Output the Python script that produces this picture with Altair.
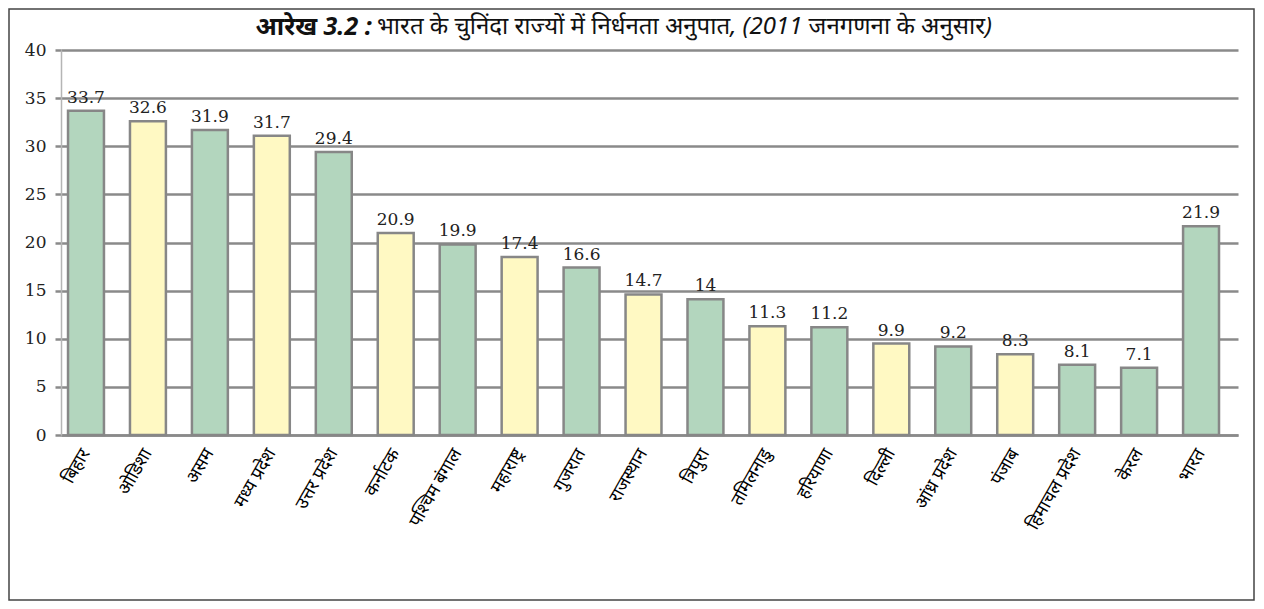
import altair as alt
import pandas as pd

states = ["बिहार", "ओडिशा", "असम", "मध्य प्रदेश", "उत्तर प्रदेश", "कर्नाटक",
          "पश्चिम बंगाल", "महाराष्ट्र", "गुजरात", "राजस्थान", "त्रिपुरा",
          "तमिलनाडु", "हरियाणा", "दिल्ली", "आंध्र प्रदेश", "पंजाब",
          "हिमाचल प्रदेश", "केरल", "भारत"]
bar_values = [33.7, 32.6, 31.7, 31.1, 29.4, 21.0, 19.8, 18.5, 17.4, 14.6, 14.1,
              11.3, 11.2, 9.5, 9.2, 8.4, 7.3, 7.0, 21.7]
value_labels = ["33.7", "32.6", "31.9", "31.7", "29.4", "20.9", "19.9", "17.4",
                "16.6", "14.7", "14", "11.3", "11.2", "9.9", "9.2", "8.3", "8.1",
                "7.1", "21.9"]
groups = ["g", "y", "g", "y", "g", "y", "g", "y", "g", "y", "g", "y", "g", "y",
          "g", "y", "g", "g", "g"]
y_ticks = [0, 5, 10, 15, 20, 25, 30, 35, 40]
title_bold = "आरेख 3.2 :"
title_rest = "भारत के चुनिंदा राज्यों में निर्धनता अनुपात, (2011 जनगणना के अनुसार)"

df = pd.DataFrame({"state": states, "value": bar_values,
                   "label": value_labels, "group": groups})

W, H = 1177, 385
SERIF = "DejaVu Serif"
DEVA = "Noto Sans, sans-serif"

x_enc = alt.X("state:N", sort=states,
              scale=alt.Scale(paddingInner=0.42, paddingOuter=0.21, align=0.27),
              axis=alt.Axis(title=None, labelAngle=-60, labelFont=DEVA,
                            labelFontSize=18, labelColor="#000", labelPadding=15,
                            ticks=False, domainColor="#8a8a8a", domainWidth=2.5,
                            labelAlign="right", labelBaseline="middle"))
y_enc = alt.Y("value:Q", scale=alt.Scale(domain=[0, 40], nice=False),
              axis=alt.Axis(title=None, values=y_ticks, grid=True,
                            gridColor="#8a8a8a", gridWidth=2.5,
                            tickColor="#8a8a8a", tickWidth=2.5, tickSize=6,
                            domainColor="#b5b5b5", domainWidth=1.5,
                            labelFont=SERIF, labelFontSize=17, labelPadding=9,
                            labelColor="#222"))

bars = alt.Chart(df).mark_bar(stroke="#878787", strokeWidth=2.5).encode(
    x=x_enc, y=y_enc,
    color=alt.Color("group:N", scale=alt.Scale(domain=["g", "y"],
                                               range=["#b3d6be", "#fff9c3"]),
                    legend=None))

labels = alt.Chart(df).mark_text(baseline="bottom", dy=-4, font=SERIF,
                                 fontSize=17, color="#222").encode(
    x=x_enc, y=y_enc, text="label:N")

tdf = pd.DataFrame({"bold": [title_bold], "rest": [title_rest]})
t1 = alt.Chart(tdf).mark_text(align="right", baseline="middle", font=DEVA,
                              fontSize=25, fontWeight="bold", fontStyle="italic",
                              color="#111").encode(
    x=alt.value(311), y=alt.value(-23), text="bold:N")
t2 = alt.Chart(tdf).mark_text(align="left", baseline="middle", font=DEVA,
                              fontSize=24, fontStyle="italic",
                              color="#111").encode(
    x=alt.value(316), y=alt.value(-23), text="rest:N")

frame = alt.Chart(tdf).mark_rect(fill="transparent", stroke="#444",
                                 strokeWidth=1.5).encode(
    x=alt.value(-52), x2=alt.value(W + 16), y=alt.value(-41), y2=alt.value(H + 165))

chart = alt.layer(frame, bars, labels, t1, t2).properties(
    width=W, height=H,
    padding={"left": 53, "top": 42, "right": 18, "bottom": 166},
    autosize=alt.AutoSizeParams(type="none"),
    background="white",
).configure_view(stroke=None)

chart.save("out.html", embed_options={"renderer": "svg", "actions": False})
